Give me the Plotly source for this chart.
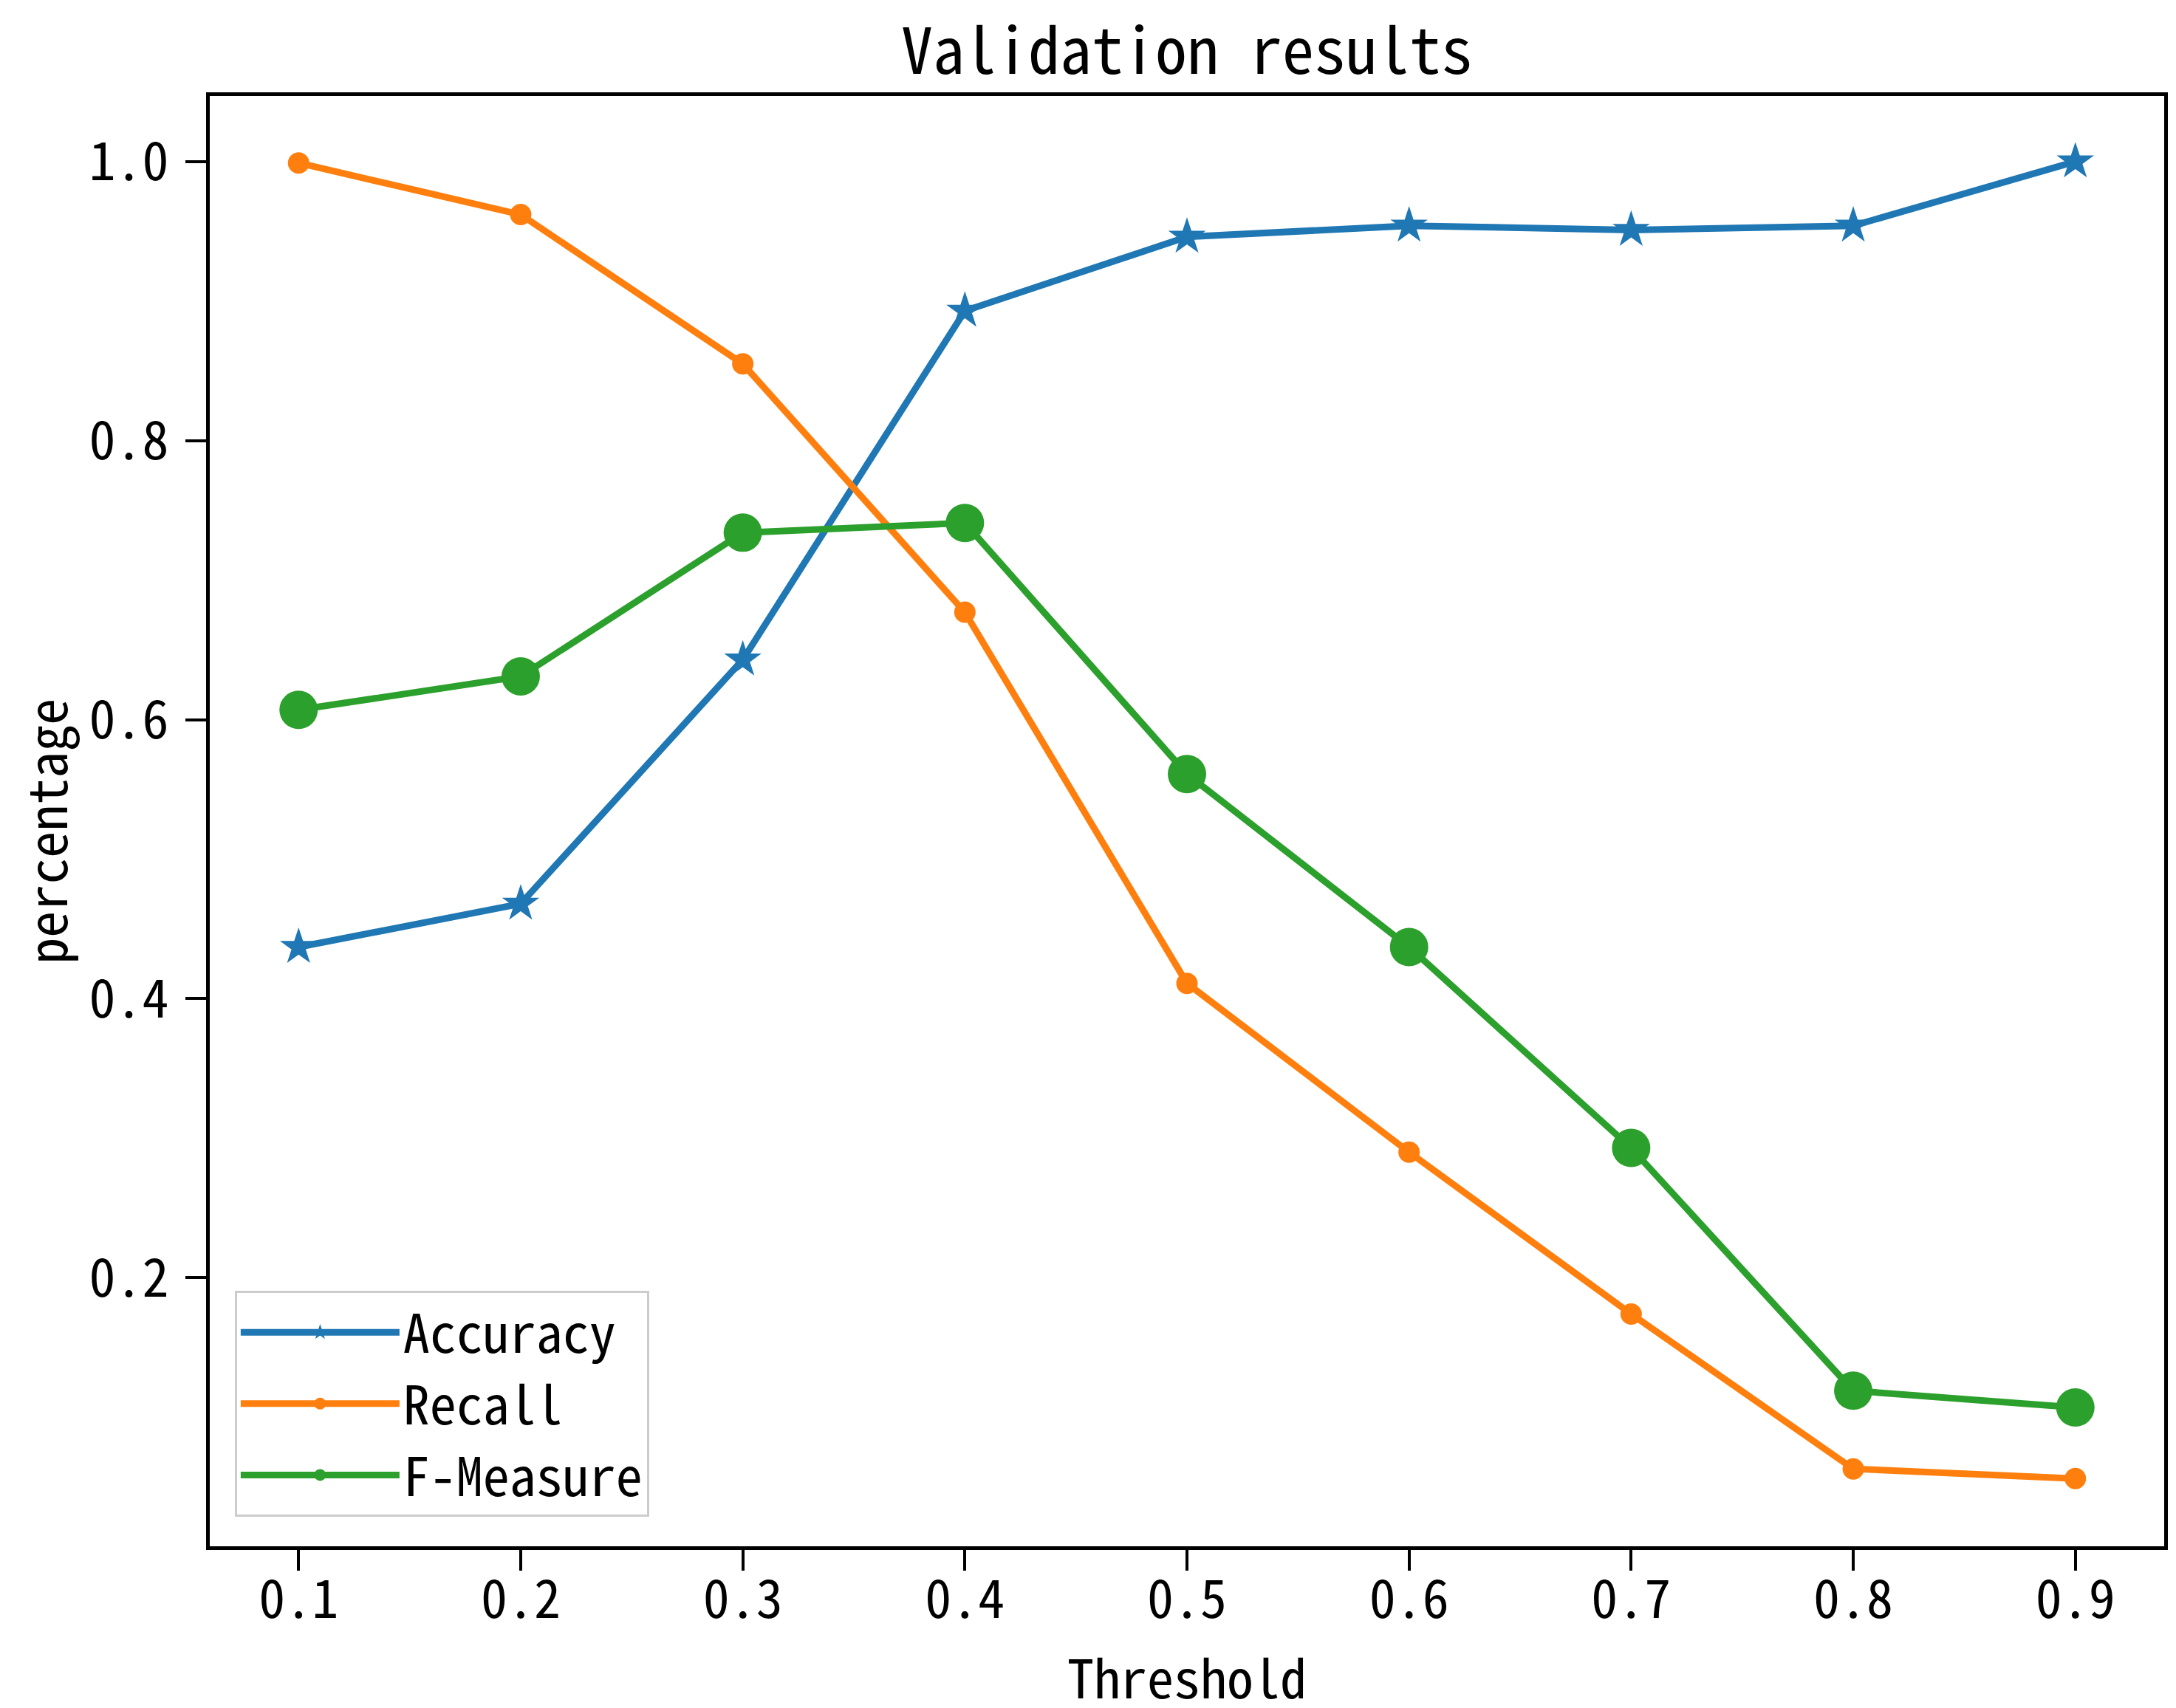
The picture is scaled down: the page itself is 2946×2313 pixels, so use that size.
import plotly.graph_objects as go

# threshold values on the x axis
thresholds = [0.1, 0.2, 0.3, 0.4, 0.5, 0.6, 0.7, 0.8, 0.9]

accuracy = [0.437, 0.468, 0.643, 0.893, 0.946, 0.954, 0.951, 0.954, 1.0]
recall = [0.999, 0.962, 0.855, 0.677, 0.411, 0.290, 0.174, 0.063, 0.056]
f_measure = [0.607, 0.631, 0.734, 0.741, 0.561, 0.437, 0.293, 0.119, 0.107]

x_ticks = [0.1, 0.2, 0.3, 0.4, 0.5, 0.6, 0.7, 0.8, 0.9]
y_ticks = [0.2, 0.4, 0.6, 0.8, 1.0]

FONT = "Noto Sans Mono CJK SC, Noto Sans CJK SC, Liberation Mono, monospace"
W, H = 2946, 2313
M_L, M_R, M_T, M_B = 276, 24, 122, 227
PLOT_W = W - M_L - M_R
PLOT_H = H - M_T - M_B

fig = go.Figure()

fig.add_trace(
    go.Scatter(
        x=thresholds,
        y=accuracy,
        name="Accuracy",
        mode="lines+markers",
        line={"color": "#1f77b4", "width": 9},
        marker={"symbol": "star", "size": 38, "color": "#1f77b4"},
    )
)

fig.add_trace(
    go.Scatter(
        x=thresholds,
        y=recall,
        name="Recall",
        mode="lines+markers",
        line={"color": "#ff7f0e", "width": 9},
        marker={"symbol": "circle", "size": 29, "color": "#ff7f0e"},
    )
)

fig.add_trace(
    go.Scatter(
        x=thresholds,
        y=f_measure,
        name="F-Measure",
        mode="lines+markers",
        line={"color": "#2ca02c", "width": 9},
        marker={"symbol": "circle", "size": 52, "color": "#2ca02c"},
    )
)

axis_common = dict(
    showline=True,
    linecolor="black",
    linewidth=5,
    mirror=True,
    showgrid=False,
    zeroline=False,
    ticks="outside",
    ticklen=28,
    tickwidth=4,
    tickcolor="black",
    tickfont=dict(family=FONT, size=72, color="black"),
)

fig.update_xaxes(
    range=[0.06, 0.94],
    tickvals=x_ticks,
    ticktext=[f"{v:.1f}" for v in x_ticks],
    ticklabelstandoff=-22,
    **axis_common,
)

fig.update_yaxes(
    range=[0.0075, 1.047],
    tickvals=y_ticks,
    ticktext=[f"{v:.1f}" for v in y_ticks],
    ticklabelstandoff=8,
    **axis_common,
)

# axis titles placed as annotations so they sit where the reference has them
label_font = dict(family=FONT, size=72, color="black")
fig.add_annotation(
    text="Threshold",
    xref="paper", yref="paper",
    x=0.5, y=-(2260 - (H - M_B)) / PLOT_H,
    xanchor="center", yanchor="middle",
    showarrow=False,
    font=label_font,
)
fig.add_annotation(
    text="percentage",
    xref="paper", yref="paper",
    x=(52 - M_L) / PLOT_W, y=0.493,
    xanchor="center", yanchor="middle",
    textangle=-90,
    showarrow=False,
    font=label_font,
)

fig.update_layout(
    width=W,
    height=H,
    paper_bgcolor="white",
    plot_bgcolor="white",
    margin=dict(l=M_L, r=M_R, t=M_T, b=M_B),
    title=dict(
        text="Validation results",
        font=dict(family=FONT, size=86, color="black"),
        x=(M_L + W - M_R) / 2 / W,
        xanchor="center",
        y=1 - 62 / H,
        yanchor="middle",
    ),
    legend=dict(
        x=0.0128,
        y=0.0204,
        xanchor="left",
        yanchor="bottom",
        bgcolor="white",
        bordercolor="#cccccc",
        borderwidth=3,
        font=dict(family=FONT, size=72, color="black"),
        itemwidth=215,
        tracegroupgap=0,
    ),
    showlegend=True,
)

fig.write_html("out.html")
